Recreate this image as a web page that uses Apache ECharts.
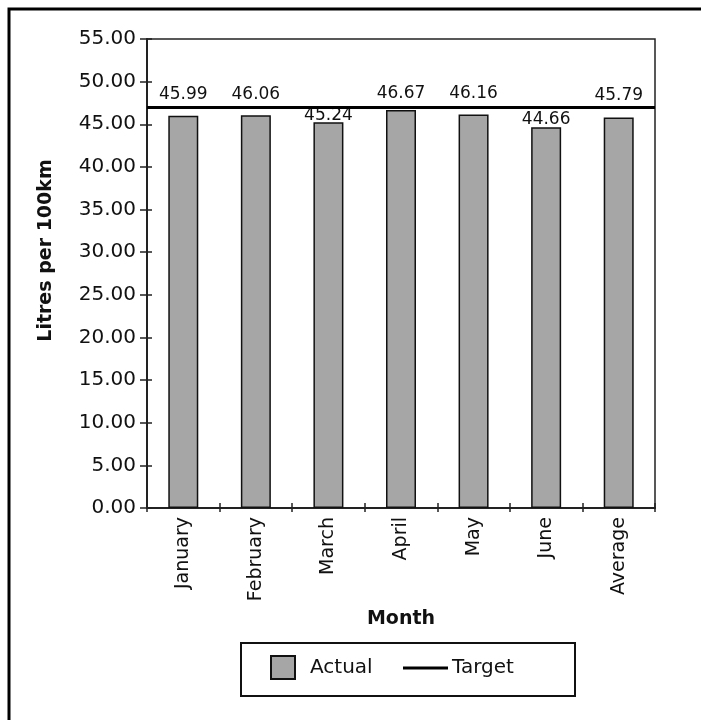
<!DOCTYPE html>
<html>
<head>
<meta charset="utf-8">
<script src="https://cdn.jsdelivr.net/npm/echarts@6/dist/echarts.min.js"></script>
<style>
  html, body { margin: 0; padding: 0; background: #fff; }
  #chart { width: 701px; height: 720px; }
</style>
</head>
<body>
<div id="chart"></div>
<script>
// Monthly fuel consumption against target
const months = ['January', 'February', 'March', 'April', 'May', 'June', 'Average'];
const actual = [45.99, 46.06, 45.24, 46.67, 46.16, 44.66, 45.79];
const target = 47;

// y axis scale
const yMin = 0;
const yMax = 55;
const yStep = 5;

// how far each value label sits above its bar (px)
const labelGap = [13, 12.5, -2, 8, 12, -1, 13];

const FONT = 'DejaVu Sans';
const INK = '#111';
const BAR_FILL = '#a6a6a6';

const chart = echarts.init(document.getElementById('chart'), null, { renderer: 'canvas' });

const barData = actual.map((v, i) => ({
  value: v,
  label: { distance: labelGap[i] }
}));

const option = {
  backgroundColor: '#fff',
  animation: false,
  textStyle: { fontFamily: FONT, color: INK },
  grid: {
    left: 147, top: 39, right: 46, bottom: 212,
    show: true, borderColor: '#222', borderWidth: 1.5, backgroundColor: 'transparent'
  },
  graphic: [
    { type: 'rect', shape: { x: 9, y: 9, width: 760, height: 760 },
      style: { fill: 'none', stroke: '#000', lineWidth: 3 }, silent: true },
    { type: 'rect', shape: { x: 241, y: 643, width: 334, height: 53 },
      style: { fill: 'none', stroke: '#111', lineWidth: 2 }, silent: true }
  ],
  legend: [
    {
      data: ['Actual'], left: 270, top: 655, padding: 0,
      itemWidth: 24, itemHeight: 23, icon: 'rect',
      textStyle: { fontFamily: FONT, fontSize: 20, color: INK, padding: [0, 0, 0, 10] },
      selectedMode: false
    },
    {
      data: ['Target'], left: 403, top: 658, padding: 0,
      itemWidth: 45, itemHeight: 3, icon: 'rect',
      itemStyle: { color: '#000', borderWidth: 0 },
      textStyle: { fontFamily: FONT, fontSize: 20, color: INK, padding: [0, 0, 0, -1] },
      selectedMode: false
    }
  ],
  xAxis: [
    {
      type: 'category', data: months, position: 'bottom',
      name: 'Month', nameLocation: 'middle', nameGap: 96,
      nameTextStyle: { fontFamily: FONT, fontSize: 19, fontWeight: 'bold', color: INK },
      axisLine: { lineStyle: { color: '#222', width: 2 } },
      axisTick: { show: true, length: 4, alignWithLabel: false, lineStyle: { color: '#222', width: 1.5 } },
      axisLabel: { rotate: 90, margin: 9, fontFamily: FONT, fontSize: 19, color: INK, interval: 0 },
      splitLine: { show: false }
    },
    {
      type: 'category', data: months, position: 'bottom',
      axisLine: { show: false },
      axisTick: { show: true, inside: true, length: 5, lineStyle: { color: '#222', width: 1.5 } },
      axisLabel: { show: false },
      splitLine: { show: false }
    }
  ],
  yAxis: [
    {
      type: 'value', min: yMin, max: yMax, interval: yStep, position: 'left',
      name: 'Litres per 100km', nameLocation: 'middle', nameGap: 91,
      nameTextStyle: {
        fontFamily: FONT, fontSize: 19, fontWeight: 'bold', color: INK,
        padding: [0, 0, 0, 46]
      },
      axisLine: { show: true, lineStyle: { color: '#222', width: 2 } },
      axisTick: { show: true, length: 7, lineStyle: { color: '#222', width: 1.5 } },
      axisLabel: {
        margin: 11, fontFamily: FONT, fontSize: 20, color: INK,
        formatter: v => v.toFixed(2)
      },
      splitLine: { show: false }
    },
    {
      type: 'value', min: yMin, max: yMax, interval: yStep, position: 'left',
      axisLine: { show: false },
      axisTick: { show: true, inside: true, length: 5, lineStyle: { color: '#222', width: 1.5 } },
      axisLabel: { show: false },
      splitLine: { show: false }
    }
  ],
  series: [
    {
      name: 'Actual', type: 'bar', data: barData,
      xAxisIndex: 0, yAxisIndex: 0,
      barWidth: 30,
      itemStyle: { color: BAR_FILL, borderColor: '#111', borderWidth: 1.5 },
      label: {
        show: true, position: 'top',
        fontFamily: FONT, fontSize: 17, color: INK,
        formatter: p => p.value.toFixed(2)
      },
      z: 2
    },
    {
      name: 'Target', type: 'line', data: [],
      xAxisIndex: 0, yAxisIndex: 0,
      symbol: 'none', color: '#000',
      lineStyle: { color: '#000', width: 3 },
      markLine: {
        silent: true, symbol: ['none', 'none'],
        label: { show: false },
        lineStyle: { color: '#000', width: 3, type: 'solid' },
        data: [{ yAxis: target }]
      },
      z: 3
    }
  ]
};

chart.setOption(option);
</script>
</body>
</html>
